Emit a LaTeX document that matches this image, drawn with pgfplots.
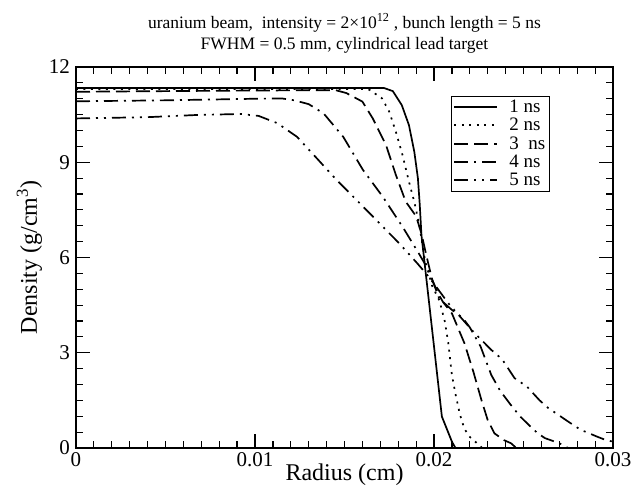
\documentclass[border=0pt]{standalone}
\usepackage{fontspec}
\setmainfont{Liberation Serif}
\usepackage{pgfplots}
\pgfplotsset{compat=1.18}
\begin{document}
\begin{tikzpicture}
\begin{axis}[
  scale only axis, width=537pt, height=381pt,
  xmin=0, xmax=0.03, ymin=0, ymax=12,
  xtick={0,0.01,0.02,0.03}, xticklabels={0,0.01,0.02,0.03},
  ytick={0,3,6,9,12}, yticklabels={0,3,6,9,12},
  minor x tick num=9, minor y tick num=5,
  scaled x ticks=false,
  tick align=inside, xtick pos=both, ytick pos=both,
  major tick length=14pt, minor tick length=7pt,
  axis line style={line width=1.5pt},
  tick style={line width=1.2pt, black},
  tick label style={font=\fontsize{21}{25}\selectfont},
  xticklabel style={inner sep=1pt, yshift=-3pt},
  yticklabel style={inner sep=1pt, xshift=-5pt},
  label style={font=\fontsize{24}{28}\selectfont},
  xlabel={Radius (cm)},
  ylabel={Density (g/cm\textsuperscript{3})},
  xlabel style={at={(axis description cs:0.5,0)}, anchor=north, yshift=-14pt, inner sep=2pt},
  ylabel style={at={(axis description cs:-0.059,0.5)}, anchor=south, inner sep=2pt},
  title={uranium beam,\ \ intensity = 2×10\textsuperscript{12} , bunch length = 5 ns\\FWHM = 0.5 mm, cylindrical lead target},
  title style={font=\fontsize{17.5}{21}\selectfont, align=center, at={(0.5,1)}, anchor=south, yshift=8pt, inner sep=0pt},
  legend style={at={(0.698,0.925)}, anchor=north west, draw=black, line width=1pt,
    font=\fontsize{19}{19}\selectfont, inner sep=2pt, row sep=0.2pt, column sep=9pt},
  legend cell align=left,
  legend image code/.code={\draw[#1, line width=2.1pt] (0pt,0pt) -- (43pt,0pt);},
]
\addplot[black, line width=1.7pt, sharp plot] coordinates {
(0,11.34)(0.010,11.34)(0.0172,11.34)(0.0177,11.24)(0.0182,10.80)(0.0186,10.17)(0.0189,9.33)(0.0191,8.5)(0.0192,7.7)(0.0193,6.7)(0.0200,3.2)(0.02044,0.99)(0.0210,0.2)(0.0212,0)(0.03,0)};
\addlegendentry{1 ns}
\addplot[black, line width=1.7pt, dash pattern=on 2pt off 5.5pt] coordinates {
(0,11.31)(0.010,11.31)(0.0160,11.31)(0.0164,11.28)(0.0171,11.01)(0.0175,10.59)(0.01787,9.96)(0.01824,9.23)(0.0186,8.39)(0.0189,7.75)(0.01916,7.08)(0.0195,5.9)(0.0199,5.1)(0.0203,4.65)(0.0206,4.0)(0.0208,3.3)(0.0210,2.3)(0.0212,1.7)(0.02145,1.05)(0.0217,0.6)(0.0220,0.35)(0.0224,0.15)(0.0227,0)(0.03,0)};
\addlegendentry{2 ns}
\addplot[black, line width=1.7pt, dash pattern=on 14pt off 6pt] coordinates {
(0,11.22)(0.005,11.24)(0.010,11.26)(0.0145,11.27)(0.0151,11.18)(0.0160,10.91)(0.01658,10.38)(0.01732,9.54)(0.01787,8.60)(0.01842,7.76)(0.0190,7.3)(0.0193,6.75)(0.0196,6.0)(0.0199,5.3)(0.0202,4.9)(0.0205,4.6)(0.0210,4.24)(0.0217,3.3)(0.0222,2.4)(0.02265,1.51)(0.0230,0.88)(0.02338,0.46)(0.0239,0.25)(0.0243,0.15)(0.0246,0)(0.03,0)};
\addlegendentry{3\ \ ns}
\addplot[black, line width=1.7pt, dash pattern=on 14pt off 6pt on 2pt off 6pt] coordinates {
(0,10.92)(0.005,10.95)(0.010,11.0)(0.0115,11.01)(0.0122,10.95)(0.0130,10.83)(0.01383,10.54)(0.01493,9.80)(0.01603,8.76)(0.01713,7.92)(0.01824,6.97)(0.01915,6.13)(0.0197,5.6)(0.0203,4.7)(0.0210,4.35)(0.0216,4.1)(0.0220,3.8)(0.0226,3.2)(0.0232,2.3)(0.0237,1.8)(0.0243,1.35)(0.0248,1.0)(0.0254,0.67)(0.0258,0.46)(0.0262,0.31)(0.0270,0.15)(0.0275,0)(0.03,0)};
\addlegendentry{4 ns}
\addplot[black, line width=1.7pt, dash pattern=on 14pt off 6pt on 2pt off 6pt on 2pt off 6pt] coordinates {
(0,10.38)(0.004,10.42)(0.0068,10.49)(0.0092,10.52)(0.0102,10.46)(0.01125,10.23)(0.01235,9.80)(0.01346,9.12)(0.01456,8.44)(0.01585,7.71)(0.01695,7.08)(0.01805,6.45)(0.01906,5.82)(0.0197,5.4)(0.0208,4.56)(0.0222,3.66)(0.0232,3.09)(0.0238,2.8)(0.0245,2.2)(0.0252,1.93)(0.0259,1.5)(0.0264,1.25)(0.0268,1.1)(0.0275,0.83)(0.0282,0.57)(0.0286,0.48)(0.0291,0.36)(0.0296,0.25)(0.03,0.2)};
\addlegendentry{5 ns}
\end{axis}
\pgfresetboundingbox
\path ([xshift=-76pt,yshift=-39pt]current axis.south west) rectangle ([xshift=19pt,yshift=67pt]current axis.north east);
\end{tikzpicture}
\end{document}
